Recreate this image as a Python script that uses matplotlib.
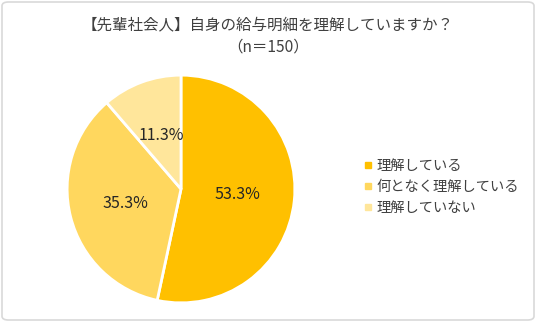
import matplotlib.pyplot as plt
from matplotlib.lines import Line2D
from matplotlib.patches import FancyBboxPatch

plt.rcParams['font.family'] = ['Noto Sans CJK JP', 'DejaVu Sans']

title = '【先輩社会人】自身の給与明細を理解していますか？\n（n＝150）'
labels = ['理解している', '何となく理解している', '理解していない']
values = [53.3, 35.3, 11.3]
colors = ['#FFC000', '#FFD75E', '#FFE69B']

W, H = 536, 322
fig = plt.figure(figsize=(W / 100, H / 100), dpi=100)

# rounded grey frame round the whole chart
frame = FancyBboxPatch((2 / W, 2 / H), 1 - 4 / W, 1 - 4 / H,
                       boxstyle='round,pad=0,rounding_size=0.012',
                       transform=fig.transFigure, facecolor='white',
                       edgecolor='#D9D9D9', linewidth=1.2, zorder=-10)
fig.patches.append(frame)

line1, line2 = title.split('\n')
fig.text(0.5, 1 - 25 / H, line1, ha='center', va='center',
         fontsize=11.2, color='#404040')
fig.text(0.5, 1 - 47 / H, line2, ha='center', va='center',
         fontsize=11.2, color='#404040')

cx, cy, r = 181, 189, 115
ax = fig.add_axes([(cx - r) / W, (H - cy - r) / H, 2 * r / W, 2 * r / H])
wedges, texts, autotexts = ax.pie(
    values, colors=colors, startangle=90, counterclock=False,
    autopct='%.1f%%', pctdistance=0.5,
    wedgeprops=dict(edgecolor='white', linewidth=2),
    textprops=dict(fontsize=11.5, color='#262626'))
ax.set_xlim(-1.01, 1.01)
ax.set_ylim(-1.01, 1.01)
ax.set_aspect('equal')
ax.axis('off')
for t, v in zip(autotexts, values):
    t.set_text(f'{v:.1f}%')

handles = [Line2D([], [], marker='s', linestyle='none', markersize=4,
                  markerfacecolor=c, markeredgecolor=c) for c in colors]
fig.legend(handles, labels, loc='center left',
           bbox_to_anchor=(351 / W, 1 - 187 / H), frameon=False,
           fontsize=10.3, handlelength=0.6, handletextpad=0.3,
           labelspacing=0.5, labelcolor='#404040')

fig.savefig('out.png', dpi=100)
